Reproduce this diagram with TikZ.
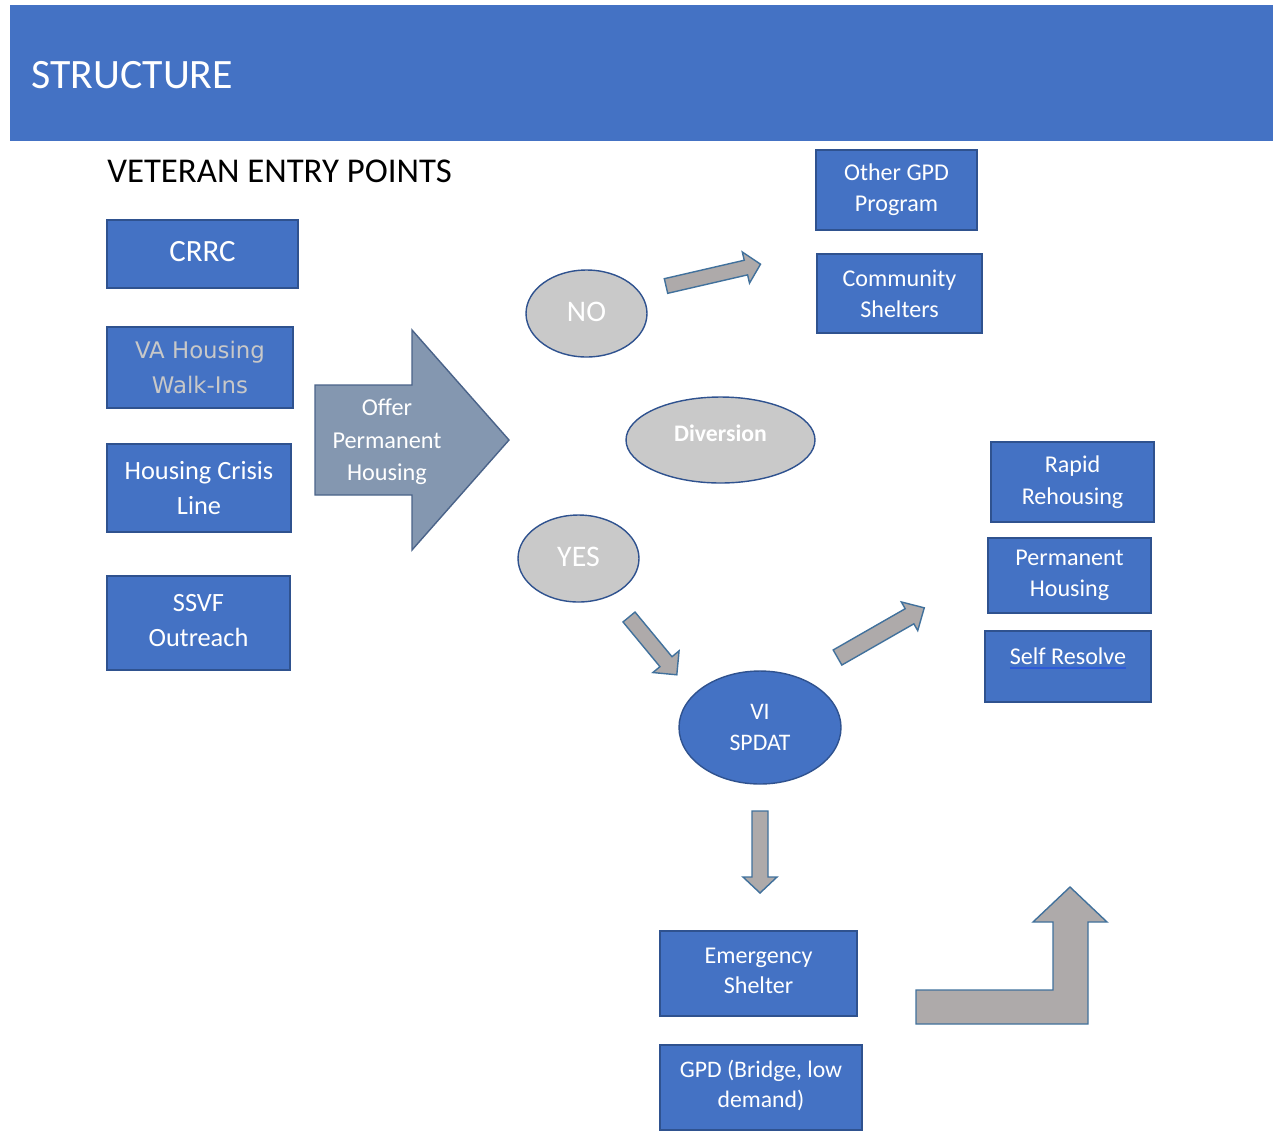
\documentclass[tikz,border=0pt]{standalone}
\usepackage{fontspec}
\setmainfont{Carlito}
\newfontfamily\verdanaish{DejaVu Sans}
\usetikzlibrary{shapes.geometric}
\definecolor{hdrblue}{HTML}{4472C4}
\definecolor{boxedge}{HTML}{2F528F}
\definecolor{ellgray}{HTML}{C9C9C9}
\definecolor{bigarr}{HTML}{8497B0}
\definecolor{bigedge}{HTML}{4A6389}
\definecolor{smallarr}{HTML}{AEAAAA}
\definecolor{arredge}{HTML}{41719C}
\definecolor{vagray}{HTML}{C8C8C8}
\definecolor{ulblue}{HTML}{2E5BD8}
\newlength\ulw
\newcommand\barrow[6]{%
  \begin{scope}[shift={(#1)},rotate=#2]
    \draw[blockarr] (0,-#4) -- ({#3-#6},-#4) -- ({#3-#6},-#5) -- (#3,0) -- ({#3-#6},#5) -- ({#3-#6},#4) -- (0,#4) -- cycle;
  \end{scope}}
\newcommand\fs[2]{\fontsize{#1}{#2}\selectfont}
\newcommand\blueul[1]{\settowidth{\ulw}{#1}{\color{ulblue}\rlap{\rule[-2.6pt]{\ulw}{0.9pt}}}#1}
\begin{document}
\begin{tikzpicture}[x=0.02cm,y=-0.02cm,
  bluebox/.style={draw=boxedge, fill=hdrblue, line width=0.8pt, text=white, align=center, inner sep=0pt},
  grayell/.style={ellipse, draw=boxedge, fill=ellgray, line width=0.8pt, text=white, inner sep=0pt},
  blockarr/.style={draw=arredge, fill=smallarr, line width=0.8pt, line join=miter},
]
\useasboundingbox (0,0) rectangle (1273,1133);

% header
\fill[hdrblue] (10,5) rectangle (1273,141);
\node[anchor=west, inner sep=0pt, text=white, font=\fs{23.8}{28}] (title) at (31,75) {STRUCTURE};
\node[anchor=west, inner sep=0pt, text=black, font=\fs{19.8}{24}] (entry) at (107,171) {VETERAN ENTRY POINTS};

% entry boxes
\node[bluebox, minimum width=3.82cm, minimum height=1.36cm, font=\fs{17.6}{21}, text depth=3pt] (crrc) at (202.5,254) {CRRC};
\node[bluebox, minimum width=3.72cm, minimum height=1.62cm, font=\verdanaish\fs{13}{19.8}, text=vagray] (va) at (200,367.5) {VA Housing\\Walk-Ins};
\node[bluebox, minimum width=3.68cm, minimum height=1.76cm, font=\fs{15}{19.8}] (hc) at (199,488) {Housing Crisis\\Line};
\node[bluebox, minimum width=3.66cm, minimum height=1.88cm, font=\fs{15}{20.4}, text depth=3pt] (ssvf) at (198.5,623) {SSVF\\Outreach};

% big arrow
\draw[draw=bigedge, fill=bigarr, line width=0.8pt, line join=miter]
  (315,385) -- (412,385) -- (412,330) -- (509,440) -- (412,550) -- (412,495) -- (315,495) -- cycle;
\node[text=white, align=center, inner sep=0pt, font=\fs{13.8}{18.5}] (offer) at (387,442) {Offer\\Permanent\\Housing};

% ellipses
\node[grayell, minimum width=2.42cm, minimum height=1.74cm, font=\fs{17}{20}, text depth=2pt] (no) at (586.5,313.5) {NO};
\node[grayell, minimum width=3.78cm, minimum height=1.72cm, font=\bfseries\fs{13.5}{17}, text depth=8pt] (div) at (720.5,440) {Diversion};
\node[grayell, minimum width=2.42cm, minimum height=1.74cm, font=\fs{17}{20}, text depth=2pt] (yes) at (578.5,558.5) {YES};
\node[ellipse, draw=boxedge, fill=hdrblue, line width=0.8pt, text=white, inner sep=0pt, align=center,
      minimum width=3.24cm, minimum height=2.26cm, font=\fs{13.5}{17.6}] (vi) at (760,727.5) {VI\\SPDAT};

% right boxes
\node[bluebox, minimum width=3.22cm, minimum height=1.6cm, font=\fs{13.7}{17.6}] (ogpd) at (896.5,190) {Other GPD\\Program};
\node[bluebox, minimum width=3.30cm, minimum height=1.58cm, font=\fs{13.7}{17.6}] (comm) at (899.5,293.5) {Community\\Shelters};
\node[bluebox, minimum width=3.26cm, minimum height=1.6cm, font=\fs{13.7}{18}] (rapid) at (1072.5,482) {Rapid\\Rehousing};
\node[bluebox, minimum width=3.26cm, minimum height=1.5cm, font=\fs{13.7}{17.6}] (perm) at (1069.5,575.5) {Permanent\\Housing};
\node[bluebox, minimum width=3.32cm, minimum height=1.42cm, font=\fs{13.7}{17}, text depth=12pt] (self) at (1068,666.5)
  {\blueul{Self Resolve}};

% bottom boxes
\node[bluebox, minimum width=3.94cm, minimum height=1.7cm, font=\fs{13.7}{17}, text depth=3pt] (emerg) at (758.5,973.5) {Emergency\\Shelter};
\node[bluebox, minimum width=4.04cm, minimum height=1.7cm, font=\fs{13.5}{17}, text depth=4pt] (gpd) at (761,1087.5) {GPD (Bridge, low\\demand)};

% small block arrows
\barrow{666,286}{13}{97}{7.5}{16}{15}
\barrow{629,617}{-50.4}{75}{7.8}{17}{17}
\barrow{837.5,657.5}{29.8}{100}{8.7}{16.5}{17}
\barrow{760,811}{-90}{82}{8}{17}{16}

% bent arrow
\draw[blockarr] (916,990) -- (1053,990) -- (1053,922) -- (1033,922) -- (1070,887) -- (1107,922)
  -- (1088,922) -- (1088,1024) -- (916,1024) -- cycle;
\end{tikzpicture}
\end{document}
